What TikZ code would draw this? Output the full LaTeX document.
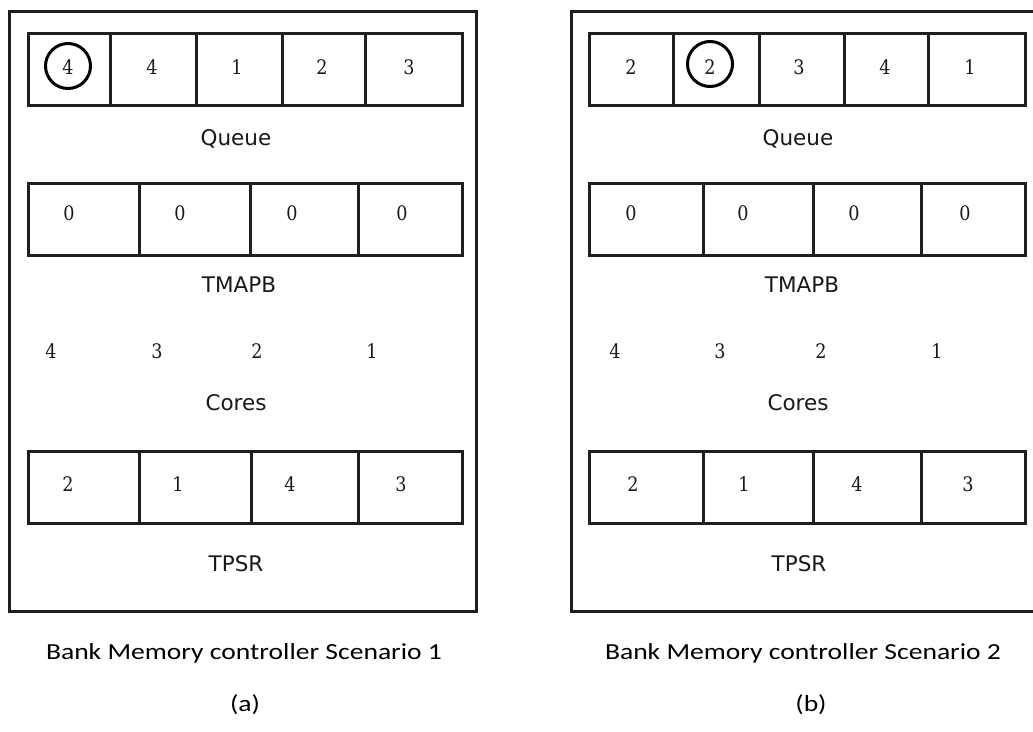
\documentclass[tikz,border=0pt]{standalone}
\usepackage{fontspec}
\setmainfont{DejaVu Sans}
\newfontfamily\digitfont[FakeStretch=0.88]{DejaVu Serif}
\newfontfamily\capfont{Carlito}
\begin{document}
\begin{tikzpicture}[x=1pt,y=-1pt,
  frame/.style={draw=black!88, line width=2.8pt, anchor=north west, inner sep=0pt},
  cell/.style={draw=black!88, line width=2.8pt, anchor=north west, inner sep=0pt, minimum height=72pt},
  num/.style={font=\digitfont\fontsize{20}{20}\selectfont, inner sep=0pt, anchor=base, text=black!90},
  lbl/.style={font=\fontsize{21.5}{22}\selectfont, inner sep=0pt, anchor=base, text=black!90},
  captext/.style={font=\capfont\fontsize{23}{23}\selectfont, inner sep=0pt, anchor=base, text=black},
  ring/.style={draw=black, circle, line width=3pt, minimum size=45pt, inner sep=0pt}
]
\useasboundingbox (0,0) rectangle (1033,731);
\fill[white] (0,0) rectangle (1033,731);
\begin{scope}
\clip (0,0) rectangle (1033,731);
% ---------- Panel (a) ----------
\node[frame, minimum width=467pt, minimum height=600pt] (boxA) at (8,10) {};
% Queue
\node[cell, minimum width=82pt] (qa1) at (27,32) {};
\node[cell, minimum width=86pt] (qa2) at (109,32) {};
\node[cell, minimum width=86pt] (qa3) at (195,32) {};
\node[cell, minimum width=83pt] (qa4) at (281,32) {};
\node[cell, minimum width=97pt] (qa5) at (364,32) {};
\node[ring] (ra) at (68,66) {};
\node[num] at (68,74) {4};
\node[num] at (152,74) {4};
\node[num] at (237,74) {1};
\node[num] at (322,74) {2};
\node[num] at (409,74) {3};
\node[lbl] (qla) at (236,145) {Queue};
% TMAPB
\node[cell, minimum width=111pt] (ta1) at (27,182) {};
\node[cell, minimum width=111pt] (ta2) at (138,182) {};
\node[cell, minimum width=108pt] (ta3) at (249,182) {};
\node[cell, minimum width=104pt] (ta4) at (357,182) {};
\node[num] at (69,220) {0};
\node[num] at (180,220) {0};
\node[num] at (292,220) {0};
\node[num] at (402,220) {0};
\node[lbl] (tla) at (239,292) {TMAPB};
% Cores
\node[num] at (51,358) {4};
\node[num] at (157,358) {3};
\node[num] at (257,358) {2};
\node[num] at (372,358) {1};
\node[lbl] (cla) at (236,410) {Cores};
% TPSR
\node[cell, minimum width=111pt] (pa1) at (27,450) {};
\node[cell, minimum width=112pt] (pa2) at (138,450) {};
\node[cell, minimum width=107pt] (pa3) at (250,450) {};
\node[cell, minimum width=104pt] (pa4) at (357,450) {};
\node[num] at (68,491) {2};
\node[num] at (178,491) {1};
\node[num] at (290,491) {4};
\node[num] at (401,491) {3};
\node[lbl] (pla) at (236,571) {TPSR};
% ---------- Panel (b) ----------
\node[frame, minimum width=480pt, minimum height=600pt] (boxB) at (570,10) {};
% Queue
\node[cell, minimum width=84pt] (qb1) at (588,32) {};
\node[cell, minimum width=86pt] (qb2) at (672,32) {};
\node[cell, minimum width=85pt] (qb3) at (758,32) {};
\node[cell, minimum width=84pt] (qb4) at (843,32) {};
\node[cell, minimum width=97pt] (qb5) at (927,32) {};
\node[ring] (rb) at (710,64) {};
\node[num] at (631,74) {2};
\node[num] at (710,74) {2};
\node[num] at (799,74) {3};
\node[num] at (885,74) {4};
\node[num] at (970,74) {1};
\node[lbl] (qlb) at (798,145) {Queue};
% TMAPB
\node[cell, minimum width=114pt] (tb1) at (588,182) {};
\node[cell, minimum width=110pt] (tb2) at (702,182) {};
\node[cell, minimum width=108pt] (tb3) at (812,182) {};
\node[cell, minimum width=104pt] (tb4) at (920,182) {};
\node[num] at (631,220) {0};
\node[num] at (743,220) {0};
\node[num] at (854,220) {0};
\node[num] at (965,220) {0};
\node[lbl] (tlb) at (802,292) {TMAPB};
% Cores
\node[num] at (615,358) {4};
\node[num] at (720,358) {3};
\node[num] at (821,358) {2};
\node[num] at (937,358) {1};
\node[lbl] (clb) at (798,410) {Cores};
% TPSR
\node[cell, minimum width=114pt] (pb1) at (588,450) {};
\node[cell, minimum width=110pt] (pb2) at (702,450) {};
\node[cell, minimum width=108pt] (pb3) at (812,450) {};
\node[cell, minimum width=104pt] (pb4) at (920,450) {};
\node[num] at (633,491) {2};
\node[num] at (744,491) {1};
\node[num] at (857,491) {4};
\node[num] at (968,491) {3};
\node[lbl] (plb) at (799,571) {TPSR};
\end{scope}
% ---------- Captions ----------
\node[captext] (capa) at (244,659) {\scalebox{1.2}[1]{Bank Memory controller Scenario 1}};
\node[captext] (suba) at (245,711) {\scalebox{1.2}[1]{(a)}};
\node[captext] (capb) at (803,659) {\scalebox{1.2}[1]{Bank Memory controller Scenario 2}};
\node[captext] (subb) at (811,711) {\scalebox{1.2}[1]{(b)}};
\end{tikzpicture}
\end{document}
